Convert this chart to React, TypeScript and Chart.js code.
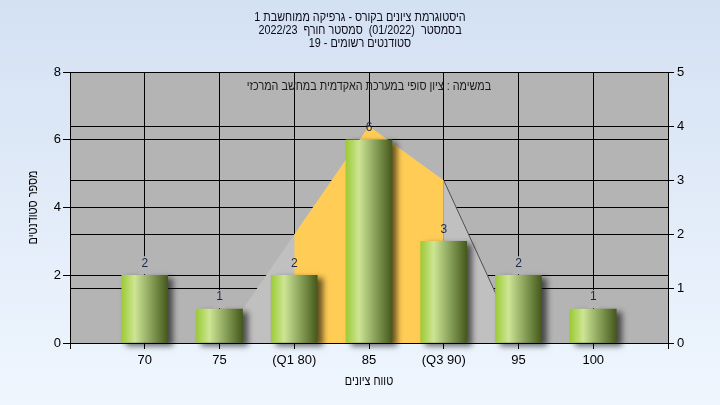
import React, { useEffect, useRef } from 'react';
import { Chart, registerables } from 'chart.js';

Chart.register(...registerables);

const titleLines = [
  'היסטוגרמת ציונים בקורס - גרפיקה ממוחשבת 1',
  'בסמסטר  (01/2022)  סמסטר חורף  2022/23',
  'סטודנטים רשומים - 19',
];
const noteText = 'במשימה : ציון סופי במערכת האקדמית במחשב המרכזי';
const xTitle = 'טווח ציונים';
const yTitle = 'מספר סטודנטים';

const gradeValues = [70, 75, 80, 85, 90, 95, 100];
const gradeLabels = ['70', '75', '(Q1 80)', '85', '(Q3 90)', '95', '100'];
const studentCounts = [2, 1, 2, 6, 3, 2, 1];

const curveX = [75, 80, 85, 90, 95];
const curveY = [0, 2, 4, 3, 0];
const iqrX = [80, 85, 90];
const iqrY = [2, 4, 3];

const xMin = 65;
const xMax = 105;
const xStep = 5;
const leftMax = 8;
const leftStep = 2;
const rightMax = 5;
const rightStep = 1;

const FONT = "'Liberation Sans', Arial, 'DejaVu Sans', sans-serif";
const CONDENSE = 0.83;

function drawCondensed(ctx: CanvasRenderingContext2D, text: string, x: number, y: number, rot = 0) {
  ctx.save();
  ctx.translate(x, y);
  if (rot) ctx.rotate(rot);
  ctx.scale(CONDENSE, 1);
  ctx.fillText(text, 0, 0);
  ctx.restore();
}

export default function App() {
  const ref = useRef<HTMLCanvasElement | null>(null);

  useEffect(() => {
    const canvas = ref.current;
    if (!canvas) return;

    const bgPlugin = {
      id: 'bgPlugin',
      beforeDraw(chart: any) {
        const { ctx, width, height, chartArea } = chart;
        ctx.save();
        const g = ctx.createLinearGradient(0, 0, 0, height);
        g.addColorStop(0, '#d4e1f3');
        g.addColorStop(1, '#eff6fe');
        ctx.fillStyle = g;
        ctx.fillRect(0, 0, width, height);
        ctx.fillStyle = '#b4b4b4';
        ctx.fillRect(chartArea.left, chartArea.top, chartArea.right - chartArea.left, chartArea.bottom - chartArea.top);
        ctx.restore();
      },
    };

    const barStylePlugin = {
      id: 'barStyle',
      beforeDatasetDraw(chart: any, args: any) {
        if (args.index !== 0) return;
        const ctx = chart.ctx;
        args.meta.data.forEach((el: any) => {
          const l = el.x - el.width / 2;
          const r = el.x + el.width / 2;
          const g = ctx.createLinearGradient(l, 0, r, 0);
          g.addColorStop(0, '#9ccb36');
          g.addColorStop(0.28, '#cde594');
          g.addColorStop(0.6, '#8fa860');
          g.addColorStop(1, '#45591b');
          el.options = Object.assign({}, el.options, { backgroundColor: g });
        });
        ctx.save();
        ctx.shadowColor = 'rgba(0,0,0,0.6)';
        ctx.shadowBlur = 6;
        ctx.shadowOffsetX = 5;
        ctx.shadowOffsetY = 3;
      },
      afterDatasetDraw(chart: any, args: any) {
        if (args.index !== 0) return;
        chart.ctx.restore();
      },
    };

    const textPlugin = {
      id: 'textPlugin',
      afterDatasetsDraw(chart: any) {
        const { ctx, chartArea } = chart;
        const meta = chart.getDatasetMeta(0);
        ctx.save();
        ctx.font = `12px ${FONT}`;
        ctx.textAlign = 'center';
        ctx.textBaseline = 'middle';
        meta.data.forEach((el: any, i: number) => {
          const v = gradeValues[i];
          const plain = v < 80 || v > 90;
          if (plain) {
            ctx.fillStyle = '#b4b4b4';
            ctx.fillRect(el.x - 6, el.y - 19, 12, 18);
          }
          ctx.fillStyle = '#1c2a48';
          ctx.fillText(String(studentCounts[i]), el.x, el.y - 12);
        });
        ctx.font = `13px ${FONT}`;
        ctx.fillStyle = '#1a1a1a';
        drawCondensed(ctx, noteText, (chartArea.left + chartArea.right) / 2, 86);
        ctx.restore();
      },
      afterDraw(chart: any) {
        const { ctx, width, chartArea } = chart;
        ctx.save();
        ctx.font = `13px ${FONT}`;
        ctx.fillStyle = '#0a0a14';
        ctx.textAlign = 'center';
        ctx.textBaseline = 'middle';
        titleLines.forEach((t, i) => drawCondensed(ctx, t, width / 2, 17 + i * 13));
        ctx.fillStyle = '#000';
        drawCondensed(ctx, xTitle, (chartArea.left + chartArea.right) / 2, 381);
        drawCondensed(ctx, yTitle, 33, (chartArea.top + chartArea.bottom) / 2, -Math.PI / 2);
        ctx.restore();
      },
    };

    const chart = new Chart(canvas, {
      type: 'bar',
      data: {
        datasets: [
          {
            type: 'bar',
            label: 'students',
            data: gradeValues.map((x, i) => ({ x, y: studentCounts[i] })),
            xAxisID: 'x',
            yAxisID: 'y',
            order: 1,
            barThickness: 46,
            backgroundColor: () => '#9ccb36',
            borderWidth: 0,
            clip: false,
          } as any,
          {
            type: 'line',
            label: 'iqr',
            data: iqrX.map((x, i) => ({ x, y: iqrY[i] })),
            xAxisID: 'x',
            yAxisID: 'y1',
            order: 2,
            fill: 'origin',
            backgroundColor: '#ffcc55',
            borderColor: 'rgba(0,0,0,0)',
            borderWidth: 0,
            pointRadius: 0,
            tension: 0,
          } as any,
          {
            type: 'line',
            label: 'curve',
            data: curveX.map((x, i) => ({ x, y: curveY[i] })),
            xAxisID: 'x',
            yAxisID: 'y1',
            order: 3,
            fill: 'origin',
            backgroundColor: '#c0c0c0',
            borderColor: '#505050',
            borderWidth: 1,
            pointRadius: 0,
            tension: 0,
            segment: {
              borderColor: (c: any) => (c.p0.parsed.x >= 90 ? '#505050' : 'rgba(0,0,0,0)'),
            },
          } as any,
        ],
      },
      options: {
        responsive: false,
        animation: false,
        devicePixelRatio: 1,
        layout: { padding: { top: 72, left: 0, right: 0, bottom: 0 } },
        plugins: {
          legend: { display: false },
          title: { display: false },
          tooltip: { enabled: false },
        },
        scales: {
          x: {
            type: 'linear',
            position: 'bottom',
            min: xMin,
            max: xMax,
            offset: false,
            afterFit: (s: any) => {
              s.height = 62;
            },
            ticks: {
              stepSize: xStep,
              autoSkip: false,
              maxRotation: 0,
              padding: 4,
              color: '#000',
              font: { family: FONT, size: 13 },
              callback: (v: any) => {
                const idx = gradeValues.indexOf(Number(v));
                return idx >= 0 ? gradeLabels[idx] : '';
              },
            },
            grid: { color: '#000', lineWidth: 1, tickLength: 6, tickColor: '#000', offset: false },
            border: { color: '#000', width: 1, z: 1 },
          },
          y: {
            type: 'linear',
            position: 'left',
            min: 0,
            max: leftMax,
            afterFit: (s: any) => {
              s.width = 70;
            },
            ticks: { stepSize: leftStep, padding: 2, color: '#000', font: { family: FONT, size: 13 } },
            grid: { color: '#000', lineWidth: 1, tickLength: 7, tickColor: '#000' },
            border: { color: '#000', width: 1, z: 1 },
          },
          y1: {
            type: 'linear',
            position: 'right',
            min: 0,
            max: rightMax,
            afterFit: (s: any) => {
              s.width = 52;
            },
            ticks: { stepSize: rightStep, padding: 3, color: '#000', font: { family: FONT, size: 13 } },
            grid: { color: '#000', lineWidth: 1, tickLength: 6, tickColor: '#000', drawOnChartArea: true },
            border: { color: '#000', width: 1, z: 1 },
          },
        },
      } as any,
      plugins: [bgPlugin, barStylePlugin, textPlugin],
    });

    return () => chart.destroy();
  }, []);

  return (
    <div style={{ position: 'fixed', left: 0, top: 0, width: 720, height: 405 }}>
      <canvas ref={ref} width={720} height={405} style={{ display: 'block', width: 720, height: 405 }} />
    </div>
  );
}
